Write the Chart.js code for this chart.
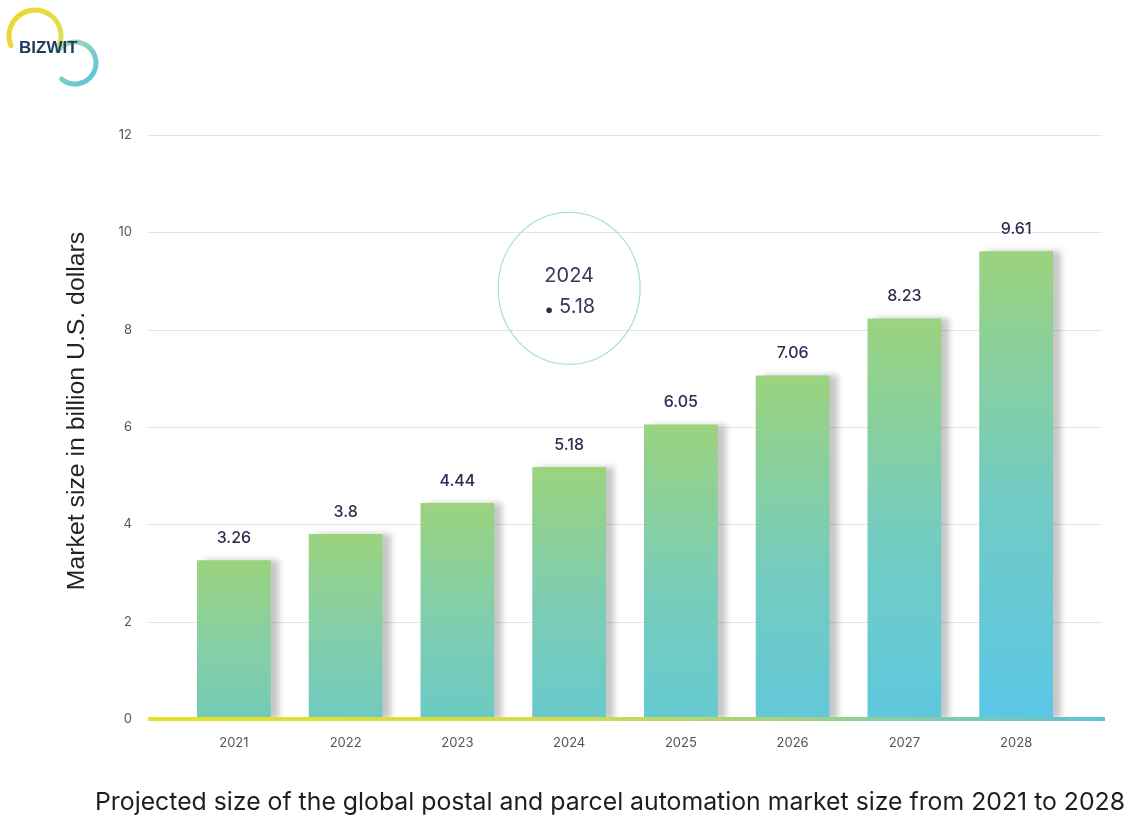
<!DOCTYPE html>
<html lang="en">
<head>
<meta charset="UTF-8">
<title>Postal and Parcel Automation Market</title>
<script src="https://cdn.jsdelivr.net/npm/chart.js"></script>
<style>
  html, body { margin: 0; padding: 0; background: #fff; }
  #wrap { width: 1124px; height: 818px; position: relative; }
</style>
</head>
<body>
<div id="wrap"><canvas id="marketChart"></canvas></div>
<script>
const years = ['2021', '2022', '2023', '2024', '2025', '2026', '2027', '2028'];
const marketSize = [3.26, 3.8, 4.44, 5.18, 6.05, 7.06, 8.23, 9.61];
const yTicks = [0, 2, 4, 6, 8, 10, 12];
const highlightYear = '2024';
const yTitle = 'Market size in billion U.S. dollars';
const caption = 'Projected size of the global postal and parcel automation market size from 2021 to 2028';

const FONT = 'Inter, "Noto Sans", sans-serif';
const INK = '#2e2c4f';

// bars fade from green at the top to teal/blue at the bottom, bluer to the right
function mix(a, b, t) {
    const pa = a.match(/\w\w/g).map(h => parseInt(h, 16));
    const pb = b.match(/\w\w/g).map(h => parseInt(h, 16));
    return 'rgb(' + pa.map((v, i) => Math.round(v + (pb[i] - v) * t)).join(',') + ')';
}

function barFill(ctx) {
    const chart = ctx.chart;
    const area = chart.chartArea;
    if (!area || ctx.dataIndex === undefined) return '#8fd1a0';
    const top = chart.scales.y.getPixelForValue(marketSize[ctx.dataIndex]);
    const t = ctx.dataIndex / (years.length - 1);
    const g = chart.ctx.createLinearGradient(0, top, 0, area.bottom);
    g.addColorStop(0, '#9bd37e');
    g.addColorStop(0.55, mix('86cfa6', '70cbc6', t));
    g.addColorStop(1, mix('72cbb8', '5bc7e6', t));
    return g;
}

const decor = {
    id: 'decor',
    beforeDatasetsDraw(chart) {
        const { ctx, chartArea: a, scales: { y } } = chart;
        // horizontal guides run a little past the plot on both sides
        ctx.save();
        ctx.strokeStyle = '#e4e4e4';
        ctx.lineWidth = 1;
        yTicks.forEach(v => {
            if (v === 0) return;
            const py = Math.round(y.getPixelForValue(v)) + 0.5;
            ctx.beginPath();
            ctx.moveTo(a.left - 30, py);
            ctx.lineTo(a.right + 30, py);
            ctx.stroke();
        });
        ctx.restore();
        // soft grey shadow to the right of each bar
        ctx.save();
        ctx.shadowColor = 'rgba(0,0,0,0.22)';
        ctx.shadowOffsetX = 8;
        ctx.shadowOffsetY = 0;
        ctx.shadowBlur = 6;
    },
    afterDatasetsDraw(chart) {
        const { ctx, chartArea: a, scales: { x, y } } = chart;
        ctx.restore();

        // baseline, yellow to cyan
        const y0 = y.getPixelForValue(0);
        const lg = ctx.createLinearGradient(a.left - 30, 0, a.right + 30, 0);
        lg.addColorStop(0, '#e8e02c');
        lg.addColorStop(0.45, '#cfdd4c');
        lg.addColorStop(1, '#5fc3d8');
        ctx.save();
        ctx.strokeStyle = lg;
        ctx.lineWidth = 4;
        ctx.beginPath();
        ctx.moveTo(a.left - 30, y0);
        ctx.lineTo(a.right + 33, y0);
        ctx.stroke();

        // value labels above the bars
        const meta = chart.getDatasetMeta(0);
        ctx.fillStyle = INK;
        ctx.font = '500 16px ' + FONT;
        ctx.textAlign = 'center';
        ctx.textBaseline = 'middle';
        meta.data.forEach((bar, i) => {
            ctx.fillText(String(marketSize[i]), bar.x, bar.y - 22);
        });

        // call-out bubble for the highlighted year
        const hi = years.indexOf(highlightYear);
        const cx = x.getPixelForValue(hi);
        const cy = y.getPixelForValue(8.85);
        ctx.strokeStyle = '#a8ddd7';
        ctx.lineWidth = 1.2;
        ctx.beginPath();
        ctx.ellipse(cx, cy, 71, 76, 0, 0, Math.PI * 2);
        ctx.stroke();
        ctx.fillStyle = '#3a3956';
        ctx.font = '20px ' + FONT;
        ctx.fillText(highlightYear, cx, cy - 12);
        ctx.fillText(String(marketSize[hi]), cx + 8, cy + 19);
        ctx.fillStyle = INK;
        ctx.beginPath();
        ctx.arc(cx - 20, cy + 22, 2.8, 0, Math.PI * 2);
        ctx.fill();
        ctx.restore();
    },
    afterDraw(chart) {
        const { ctx } = chart;
        ctx.save();

        // logo mark
        ctx.lineCap = 'round';
        const yg = ctx.createLinearGradient(8, 0, 60, 40);
        yg.addColorStop(0, '#f3d51a');
        yg.addColorStop(1, '#d9e05a');
        ctx.strokeStyle = yg;
        ctx.lineWidth = 5;
        ctx.beginPath();
        ctx.arc(35, 36, 26, Math.PI * 0.88, Math.PI * 2.12);
        ctx.stroke();
        const cg = ctx.createLinearGradient(55, 40, 95, 85);
        cg.addColorStop(0, '#a9dcb0');
        cg.addColorStop(1, '#56c3df');
        ctx.strokeStyle = cg;
        ctx.beginPath();
        ctx.arc(75, 63, 21, Math.PI * 1.2, Math.PI * 2.72);
        ctx.stroke();
        ctx.fillStyle = '#1f3d63';
        ctx.font = 'bold 17px "Liberation Sans", Arial, sans-serif';
        ctx.textAlign = 'left';
        ctx.textBaseline = 'middle';
        ctx.fillText('BIZWIT', 19, 48);

        // rotated axis title
        ctx.fillStyle = '#222';
        ctx.font = '21px "Liberation Sans", Arial, sans-serif';
        const tw = ctx.measureText(yTitle).width;
        const ts = 21 * 358 / tw;
        ctx.font = ts.toFixed(1) + 'px "Liberation Sans", Arial, sans-serif';
        ctx.translate(77, 411);
        ctx.rotate(-Math.PI / 2);
        ctx.textAlign = 'center';
        ctx.fillText(yTitle, 0, 0);
        ctx.setTransform(1, 0, 0, 1, 0, 0);

        // caption under the chart
        ctx.font = '22px ' + FONT;
        const cw = ctx.measureText(caption).width;
        const cs = 22 * 1030 / cw;
        ctx.font = cs.toFixed(1) + 'px ' + FONT;
        ctx.fillStyle = '#1e1e1e';
        ctx.textAlign = 'left';
        ctx.fillText(caption, 95, 803);
        ctx.restore();
    }
};

const chart = new Chart(document.getElementById('marketChart'), {
    type: 'bar',
    data: {
        labels: years,
        datasets: [{
            data: marketSize,
            backgroundColor: barFill,
            borderWidth: 0,
            barPercentage: 0.66,
            categoryPercentage: 1
        }]
    },
    options: {
        responsive: true,
        maintainAspectRatio: false,
        animation: false,
        layout: { padding: { top: 135, right: 52, left: 0, bottom: 0 } },
        plugins: {
            legend: { display: false },
            title: { display: false },
            tooltip: { enabled: false }
        },
        scales: {
            x: {
                grid: { display: false },
                border: { display: false },
                ticks: { color: '#555', font: { family: FONT, size: 13 }, padding: 8 },
                afterFit(s) { s.height = 99; }
            },
            y: {
                min: 0,
                max: 12,
                grid: { display: false },
                border: { display: false },
                afterBuildTicks(s) { s.ticks = yTicks.map(v => ({ value: v })); },
                ticks: { color: '#555', font: { family: FONT, size: 13 }, padding: 38 },
                afterFit(s) { s.width = 178; }
            }
        }
    },
    plugins: [decor]
});
</script>
</body>
</html>
